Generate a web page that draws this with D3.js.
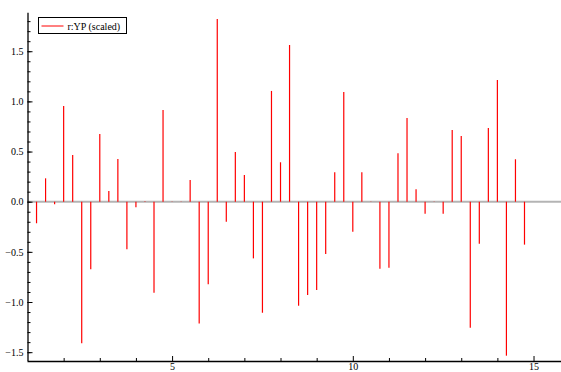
<!DOCTYPE html>
<html>
<head>
<meta charset="utf-8">
<script src="https://cdn.jsdelivr.net/npm/d3@7"></script>
<style>
  html, body { margin: 0; padding: 0; background: #fff; }
  svg { display: block; }
  text { font-family: "Liberation Serif", "DejaVu Serif", serif; font-size: 10px; fill: #000; }
</style>
</head>
<body>
<div id="chart"></div>
<script>
const W = 561, H = 372;

// stem positions and values
const xs = [1.25, 1.5, 1.75, 2, 2.25, 2.5, 2.75, 3, 3.25, 3.5, 3.75, 4, 4.25, 4.5, 4.75,
  5, 5.25, 5.5, 5.75, 6, 6.25, 6.5, 6.75, 7, 7.25, 7.5, 7.75, 8, 8.25, 8.5, 8.75,
  9, 9.25, 9.5, 9.75, 10, 10.25, 10.5, 10.75, 11, 11.25, 11.5, 11.75, 12, 12.25,
  12.5, 12.75, 13, 13.25, 13.5, 13.75, 14, 14.25, 14.5, 14.75];
const ys = [-0.215, 0.233, -0.026, 0.954, 0.466, -1.412, -0.674, 0.675, 0.107, 0.426, -0.475, -0.056, 0.004, -0.907, 0.914,
  0.003, 0.003, 0.216, -1.213, -0.824, 1.822, -0.199, 0.496, 0.266, -0.565, -1.107, 1.104, 0.393, 1.562, -1.037, -0.93,
  -0.88, -0.521, 0.293, 1.094, -0.299, 0.293, 0.003, -0.668, -0.658, 0.482, 0.834, 0.123, -0.12, 0.003,
  -0.12, 0.715, 0.655, -1.256, -0.419, 0.735, 1.213, -1.535, 0.423, -0.428];

const xMajor = [5, 10, 15];
const xMinor = [2, 3, 4, 6, 7, 8, 9, 11, 12, 13, 14];
const yMajor = [-1.5, -1.0, -0.5, 0.0, 0.5, 1.0, 1.5];
const yMinor = [-1.5, -1.4, -1.3, -1.2, -1.1, -1.0, -0.9, -0.8, -0.7, -0.6, -0.5, -0.4, -0.3, -0.2, -0.1,
  0, 0.1, 0.2, 0.3, 0.4, 0.5, 0.6, 0.7, 0.8, 0.9, 1.0, 1.1, 1.2, 1.3, 1.4, 1.5, 1.6, 1.7, 1.8];
const legendLabel = 'r:YP (scaled)';

const plotL = 27.5, plotR = 561, plotT = 12.7, plotB = 361;

const x = d3.scaleLinear().domain([1, 15.76]).range([plotL, plotR]);
const y = d3.scaleLinear().domain([-1.588, 1.884]).range([plotB, plotT]);

const svg = d3.select('#chart').append('svg')
  .attr('width', W).attr('height', H);

// zero line
svg.append('line')
  .attr('x1', plotL).attr('x2', plotR)
  .attr('y1', y(0)).attr('y2', y(0))
  .attr('stroke', '#b4b4b4').attr('stroke-width', 2);

// stems
svg.append('g').selectAll('line')
  .data(xs.map((v, i) => [v, ys[i]]))
  .join('line')
  .attr('x1', d => x(d[0]))
  .attr('x2', d => x(d[0]))
  .attr('y1', y(0))
  .attr('y2', d => y(d[1]))
  .attr('stroke', '#ff0000')
  .attr('stroke-width', 1.2);

// axes
const fmt = d3.format('.1f');
const yAxis = svg.append('g').attr('transform', `translate(${plotL},0)`)
  .call(d3.axisLeft(y).tickValues(yMajor).tickFormat(fmt).tickSize(-5).tickPadding(4));
svg.append('g').attr('transform', `translate(${plotL},0)`)
  .call(d3.axisLeft(y).tickValues(yMinor).tickFormat('').tickSize(-3))
  .call(g => g.select('.domain').remove());
yAxis.select('.domain').attr('d', `M0.5,${plotT}V${plotB}`);

const xAxis = svg.append('g').attr('transform', `translate(0,${plotB})`)
  .call(d3.axisBottom(x).tickValues(xMajor).tickFormat(d3.format('d')).tickSize(-5).tickPadding(2));
svg.append('g').attr('transform', `translate(0,${plotB})`)
  .call(d3.axisBottom(x).tickValues(xMinor).tickFormat('').tickSize(-3))
  .call(g => g.select('.domain').remove());
xAxis.select('.domain').attr('d', `M${plotL},0.5H${plotR}`);

svg.selectAll('.tick text').style('font-family', '"Liberation Serif", serif').style('font-size', '10px');
svg.selectAll('.domain').attr('stroke', '#000').attr('stroke-width', 1.3);

// legend
const lg = svg.append('g').attr('transform', 'translate(38.5,17.5)');
lg.append('rect').attr('width', 88).attr('height', 16)
  .attr('fill', '#fff').attr('stroke', '#000').attr('stroke-width', 1);
lg.append('line').attr('x1', 3).attr('x2', 25).attr('y1', 8.5).attr('y2', 8.5)
  .attr('stroke', '#ff0000').attr('stroke-width', 1);
lg.append('text').attr('x', 29).attr('y', 12).text(legendLabel);
</script>
</body>
</html>
